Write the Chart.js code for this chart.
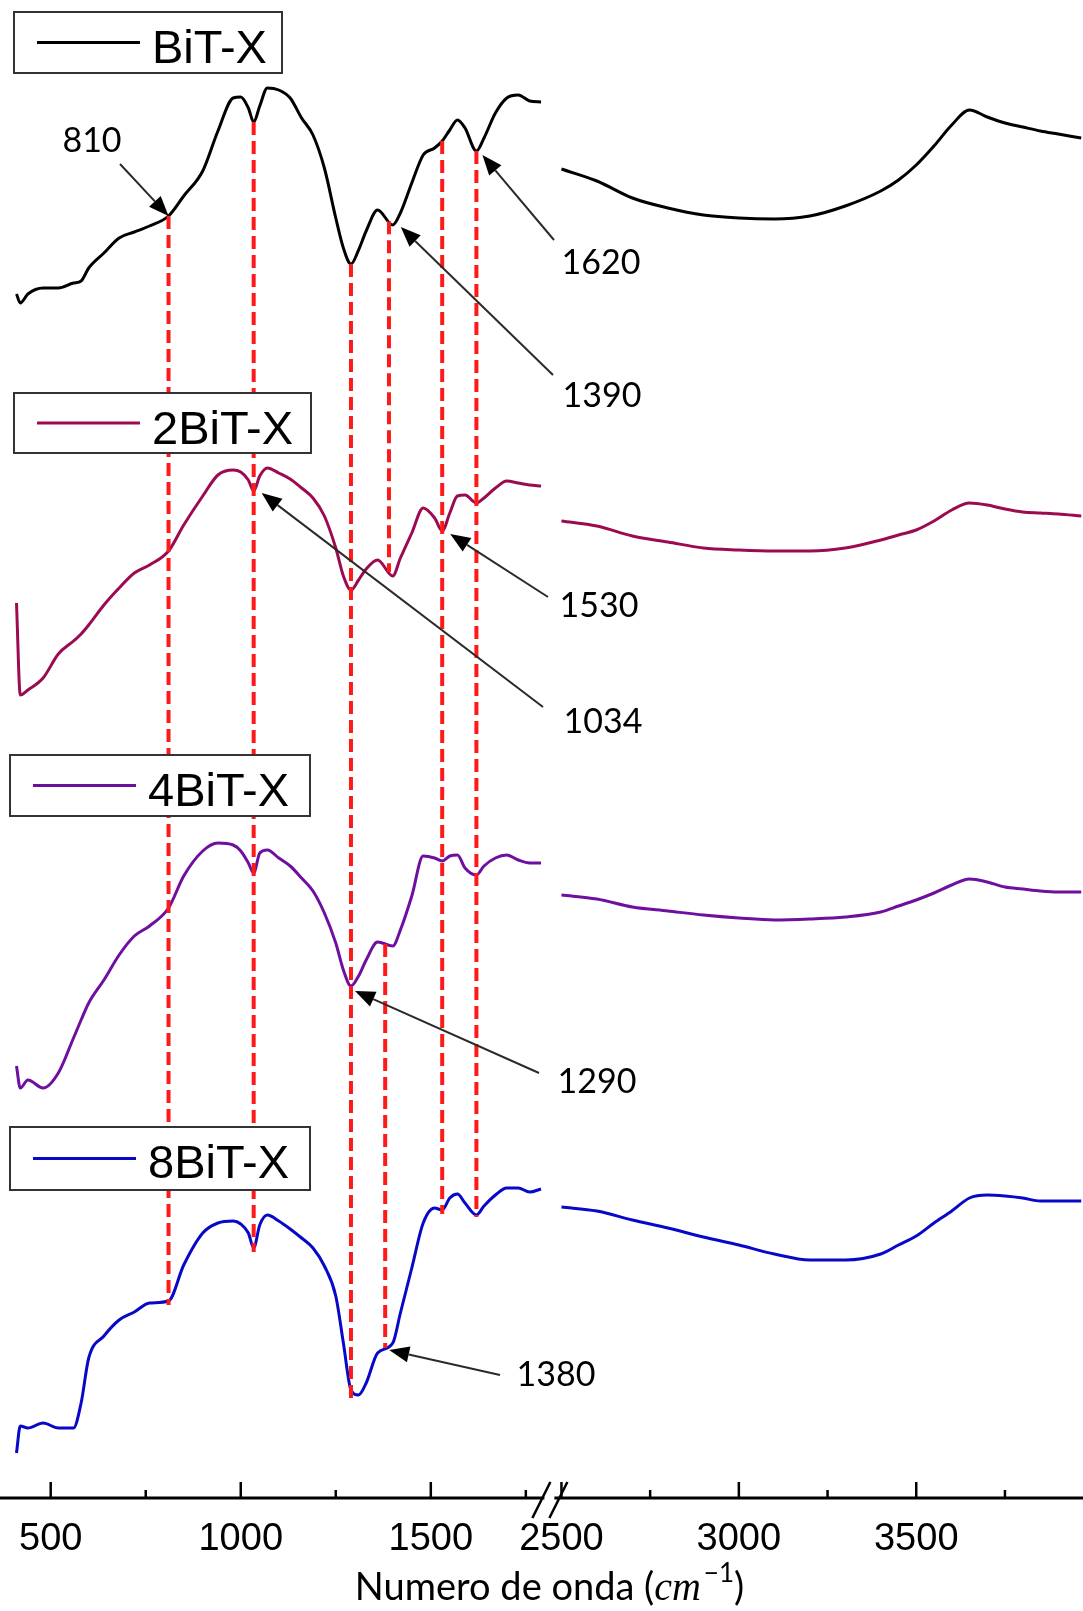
<!DOCTYPE html>
<html>
<head>
<meta charset="utf-8">
<script src="https://cdn.jsdelivr.net/npm/chart.js@4.4.1/dist/chart.umd.min.js"></script>
<style>
  html, body { margin: 0; padding: 0; background: #fff; }
  canvas { display: block; }
</style>
</head>
<body>
<canvas id="ftir" width="1083" height="1611"></canvas>
<script>
// wavenumbers, cm-1 (left and right side of the axis break)
const leftWave = [410, 420, 440, 480, 520, 560, 580, 600, 640, 680, 720, 760, 810, 850, 900, 940, 980, 1000, 1020, 1034,
  1050, 1070, 1100, 1130, 1160, 1190, 1220, 1250, 1270, 1290, 1310, 1330, 1360, 1400, 1420, 1450, 1480, 1510, 1530, 1550,
  1570, 1590, 1620, 1640, 1670, 1700, 1730, 1760, 1790];
const rightWave = [2500, 2600, 2700, 2800, 2900, 3000, 3100, 3200, 3300, 3400, 3450, 3500, 3550, 3600, 3650, 3700, 3750,
  3800, 3850, 3900, 3965];

// transmittance (a.u.) of each sample, before stacking
const bitLeft = [10.8, 9, 10.8, 12, 12, 13, 13.4, 16, 19, 22, 23.2, 24.4, 26.4, 30.4, 35.4, 43.4, 50, 50.2, 48, 45.2,
  48.4, 52, 51.6, 50, 46, 42.6, 36, 26, 20, 16.8, 19.6, 23.4, 27.6, 24.6, 27, 33, 38.6, 40, 41.4, 43.6,
  45.6, 44, 39.4, 42, 47, 50, 50.6, 49.4, 49.2];
const bitRight = [35.8, 33.4, 30, 28, 26.6, 26, 25.8, 26.4, 28.4, 31.4, 33.6, 36.6, 40.4, 44.6, 47.6, 46.2, 45, 44.2, 43.4, 42.8, 42];

const bit2Left = [29, 10.6, 11.6, 14, 18.8, 21.4, 22.8, 24.6, 28.6, 32, 35, 36.6, 39.4, 44.6, 50.4, 54.6, 55.6, 55.2, 53.6, 51.4,
  54.4, 56, 55, 53.8, 52, 50, 46.4, 40, 34.4, 31.6, 33.6, 35.8, 37.6, 34.4, 38, 43, 48, 46, 43.4, 47,
  50.4, 50.6, 49, 50, 52, 53.4, 53, 52.6, 52.4];
const bit2Right = [45.4, 44.4, 42.4, 41.2, 40, 39.6, 39.4, 39.4, 40, 41.6, 42.6, 43.6, 45.4, 47.6, 49, 48.6, 47.8, 47.2, 47, 46.8, 46.4];

const bit4Left = [6.4, 2, 3.6, 2, 5, 12, 15.6, 19, 23.6, 28.6, 32.4, 34.4, 38, 44.4, 49.4, 51, 50.6, 49.4, 47, 45,
  49, 49.6, 48, 46.4, 44, 41.4, 37, 31, 25.6, 22.4, 24.4, 27.6, 31.2, 30.4, 33.6, 40.4, 48.4, 48, 47.4, 48.4,
  48.6, 46, 44.6, 46.4, 48, 48.6, 47.6, 47, 47];
const bit4Right = [40.6, 39.8, 38.2, 37.4, 36.6, 36, 35.6, 35.8, 36.2, 37.2, 38.4, 39.6, 41, 42.6, 43.8, 43.2, 42.2, 41.8, 41.4, 41.2, 41.2];

const bit8Left = [9, 14.4, 14, 15, 14, 14, 19, 28, 32.4, 35.6, 37.2, 39, 39.4, 46.6, 53, 55, 55.4, 54.8, 53, 50,
  54.6, 56.6, 55.4, 53.8, 52, 50, 46.4, 40.4, 31, 21.6, 20.6, 23, 29, 31, 37, 46, 55, 58, 57.6, 60,
  60.8, 59, 56.6, 58.4, 60.6, 62, 62, 61.2, 61.8];
const bit8Right = [58.2, 57.4, 55.6, 54, 52.2, 50.6, 48.8, 47.6, 47.6, 48.8, 50.6, 52.4, 55, 57.4, 60, 60.6, 60.4, 60, 59.4, 59.4, 59.4];

const seriesNames = ['BiT-X', '2BiT-X', '4BiT-X', '8BiT-X'];
const seriesLeft = [bitLeft, bit2Left, bit4Left, bit8Left];
const seriesRight = [bitRight, bit2Right, bit4Right, bit8Right];
const seriesOffsets = [230, 150, 80, 0];
const seriesColors = ['#000000', '#9c0b50', '#6e0fa0', '#0808c8'];

const tickValues = [500, 750, 1000, 1250, 1500, 1750, 2500, 2750, 3000, 3250, 3500, 3750];
const tickLabels = [500, 1000, 1500, 2500, 3000, 3500];

// marked bands: dashed guide from one spectrum down to another
const peakLines = [
  { wn: 810, from: 0, to: 3, extend: 4 },
  { wn: 1034, from: 0, to: 3, extend: 4 },
  { wn: 1290, from: 0, to: 3, extend: 14 },
  { wn: 1390, from: 0, to: 1, extend: 0 },
  { wn: 1380, from: 2, to: 3, extend: 0 },
  { wn: 1530, from: 0, to: 3, extend: 4 },
  { wn: 1620, from: 0, to: 3, extend: 2 }
];
const peakNotes = [
  { text: '810', series: 0, wn: 810, tip: [0, 0], tail: [120, 164], label: [92, 141] },
  { text: '1620', series: 0, wn: 1620, tip: [6, 4], tail: [554, 240], label: [601, 263] },
  { text: '1390', series: 0, wn: 1400, tip: [8, 2], tail: [553, 375], label: [602, 396] },
  { text: '1530', series: 1, wn: 1530, tip: [8, 3], tail: [548, 597], label: [599, 606] },
  { text: '1034', series: 1, wn: 1034, tip: [8, 2], tail: [543, 707], label: [603, 722] },
  { text: '1290', series: 2, wn: 1290, tip: [4, 5], tail: [539, 1073], label: [597, 1082] },
  { text: '1380', series: 3, wn: 1380, tip: [4, 2], tail: [500, 1375], label: [556, 1375] }
];
const legendBoxes = [
  { x: 14, y: 12, w: 268, h: 61 },
  { x: 14, y: 393, w: 297, h: 60 },
  { x: 10, y: 755, w: 300, h: 61 },
  { x: 10, y: 1127, w: 300, h: 63 }
];

// broken x axis: two linear pieces sharing the width
const xSegments = [[374, 1812], [2466, 3970]];
const breakFrac = 548 / 1083;

class BrokenScale extends Chart.LinearScale {
  buildTicks() {
    return tickValues.map(v => ({ value: v }));
  }
  getPixelForValue(v) {
    if (v === null || v === undefined || isNaN(v)) return NaN;
    const [a0, a1] = xSegments[0];
    const [b0, b1] = xSegments[1];
    let f;
    if (v <= a1) f = (v - a0) / (a1 - a0) * breakFrac;
    else if (v >= b0) f = breakFrac + (v - b0) / (b1 - b0) * (1 - breakFrac);
    else f = breakFrac;
    return this.left + f * this.width;
  }
  getValueForPixel(p) {
    const f = (p - this.left) / this.width;
    const [a0, a1] = xSegments[0];
    const [b0, b1] = xSegments[1];
    if (f <= breakFrac) return a0 + f / breakFrac * (a1 - a0);
    return b0 + (f - breakFrac) / (1 - breakFrac) * (b1 - b0);
  }
}
BrokenScale.id = 'broken';
BrokenScale.defaults = Chart.LinearScale.defaults;
Chart.register(BrokenScale);

function spectrum(i) {
  const off = seriesOffsets[i];
  const pts = seriesLeft[i].map((y, k) => ({ x: leftWave[k], y: y + off }));
  pts.push({ x: 2150, y: null });
  seriesRight[i].forEach((y, k) => pts.push({ x: rightWave[k], y: y + off }));
  return pts;
}

function valueAt(i, wn) {
  const wave = wn < 2000 ? leftWave : rightWave;
  const vals = wn < 2000 ? seriesLeft[i] : seriesRight[i];
  for (let k = 0; k < wave.length - 1; k++) {
    if (wn >= wave[k] && wn <= wave[k + 1]) {
      const t = (wn - wave[k]) / (wave[k + 1] - wave[k]);
      return vals[k] + t * (vals[k + 1] - vals[k]) + seriesOffsets[i];
    }
  }
  return vals[vals.length - 1] + seriesOffsets[i];
}

function arrow(ctx, x0, y0, x1, y1) {
  const ang = Math.atan2(y1 - y0, x1 - x0);
  const len = 20, half = 8;
  const bx = x1 - len * Math.cos(ang), by = y1 - len * Math.sin(ang);
  ctx.strokeStyle = '#2a2a2a';
  ctx.lineWidth = 2;
  ctx.beginPath();
  ctx.moveTo(x0, y0);
  ctx.lineTo(bx, by);
  ctx.stroke();
  ctx.fillStyle = '#000';
  ctx.beginPath();
  ctx.moveTo(x1, y1);
  ctx.lineTo(bx + half * Math.sin(ang), by - half * Math.cos(ang));
  ctx.lineTo(bx - half * Math.sin(ang), by + half * Math.cos(ang));
  ctx.closePath();
  ctx.fill();
}

const decorations = {
  id: 'decorations',
  beforeDraw(chart) {
    const ctx = chart.ctx;
    ctx.save();
    ctx.fillStyle = '#fff';
    ctx.fillRect(0, 0, chart.width, chart.height);
    ctx.restore();
  },
  afterDraw(chart) {
    const ctx = chart.ctx;
    const xs = chart.scales.x, ys = chart.scales.y;
    const area = chart.chartArea;
    ctx.save();

    // red dashed guides
    ctx.strokeStyle = '#ff1a1a';
    ctx.lineWidth = 4;
    ctx.setLineDash([13, 6]);
    peakLines.forEach(p => {
      const x = xs.getPixelForValue(p.wn);
      ctx.beginPath();
      ctx.moveTo(x, ys.getPixelForValue(valueAt(p.from, p.wn)));
      ctx.lineTo(x, ys.getPixelForValue(valueAt(p.to, p.wn)) + p.extend);
      ctx.stroke();
    });
    ctx.setLineDash([]);

    // arrows and labels
    ctx.font = '34px Lato, "Open Sans", sans-serif';
    ctx.textAlign = 'center';
    ctx.textBaseline = 'middle';
    peakNotes.forEach(n => {
      const tx = xs.getPixelForValue(n.wn) + n.tip[0];
      const ty = ys.getPixelForValue(valueAt(n.series, n.wn)) + n.tip[1];
      arrow(ctx, n.tail[0], n.tail[1], tx, ty);
      ctx.fillStyle = '#000';
      ctx.fillText(n.text, n.label[0], n.label[1]);
    });

    // per-spectrum legend boxes
    legendBoxes.forEach((b, i) => {
      ctx.fillStyle = '#fff';
      ctx.fillRect(b.x, b.y, b.w, b.h);
      ctx.strokeStyle = '#333';
      ctx.lineWidth = 2;
      ctx.strokeRect(b.x, b.y, b.w, b.h);
      ctx.strokeStyle = seriesColors[i];
      ctx.lineWidth = 3;
      ctx.beginPath();
      ctx.moveTo(b.x + 23, b.y + b.h / 2);
      ctx.lineTo(b.x + 126, b.y + b.h / 2);
      ctx.stroke();
      ctx.fillStyle = '#000';
      ctx.font = '47px "Liberation Sans", Arial, sans-serif';
      ctx.textAlign = 'left';
      ctx.textBaseline = 'alphabetic';
      ctx.fillText(seriesNames[i], b.x + 138, b.y + 51);
    });

    // x axis line, inward ticks and break mark
    const yb = area.bottom;
    ctx.strokeStyle = '#000';
    ctx.lineWidth = 3;
    ctx.beginPath();
    ctx.moveTo(0, yb);
    ctx.lineTo(chart.width, yb);
    ctx.stroke();
    ctx.lineWidth = 2.5;
    tickValues.forEach(v => {
      const x = xs.getPixelForValue(v);
      const h = tickLabels.includes(v) ? 16 : 8;
      ctx.beginPath();
      ctx.moveTo(x, yb);
      ctx.lineTo(x, yb - h);
      ctx.stroke();
    });
    const xb = xs.getPixelForValue(2150);
    ctx.fillStyle = '#fff';
    ctx.fillRect(xb - 5, yb - 3, 10, 6);
    ctx.strokeStyle = '#000';
    ctx.lineWidth = 2.5;
    [-8, 9].forEach(d => {
      ctx.beginPath();
      ctx.moveTo(xb + d - 9, yb + 20);
      ctx.lineTo(xb + d + 9, yb - 16);
      ctx.stroke();
    });

    // axis title with italic unit and superscript
    const parts = [
      { t: 'Numero de onda (', f: '38px Lato, "Open Sans", sans-serif', dy: 0 },
      { t: 'cm', f: 'italic 40px "Liberation Serif", "DejaVu Serif", serif', dy: 0 },
      { t: '\u22121', f: '26px Lato, "Open Sans", sans-serif', dy: -18 },
      { t: ')', f: '38px Lato, "Open Sans", sans-serif', dy: 0 }
    ];
    let total = 0;
    parts.forEach(p => { ctx.font = p.f; p.w = ctx.measureText(p.t).width; total += p.w; });
    let cx = 548 - total / 2;
    ctx.fillStyle = '#000';
    ctx.textAlign = 'left';
    ctx.textBaseline = 'alphabetic';
    parts.forEach(p => {
      ctx.font = p.f;
      ctx.fillText(p.t, cx, 1600 + p.dy);
      cx += p.w + (p.t === 'cm' ? 3 : 0);
    });
    ctx.restore();
  }
};

new Chart(document.getElementById('ftir'), {
  type: 'line',
  data: {
    datasets: seriesNames.map((name, i) => ({
      label: name,
      data: spectrum(i),
      borderColor: seriesColors[i],
      borderWidth: 3,
      pointRadius: 0,
      cubicInterpolationMode: 'monotone',
      spanGaps: false
    }))
  },
  options: {
    responsive: false,
    animation: false,
    devicePixelRatio: 1,
    layout: { padding: 0 },
    plugins: { legend: { display: false }, tooltip: { enabled: false } },
    scales: {
      x: {
        type: 'broken',
        min: 374,
        max: 3970,
        grid: { display: false, drawTicks: false },
        border: { display: false },
        afterFit: s => { s.height = 113; },
        ticks: {
          autoSkip: false,
          maxRotation: 0,
          padding: 19,
          color: '#000',
          font: { family: '"Liberation Sans", Arial, sans-serif', size: 38 },
          callback: v => tickLabels.includes(v) ? String(v) : ''
        }
      },
      y: { display: false, min: 0, max: 299.6 }
    }
  },
  plugins: [decorations]
});
</script>
</body>
</html>
